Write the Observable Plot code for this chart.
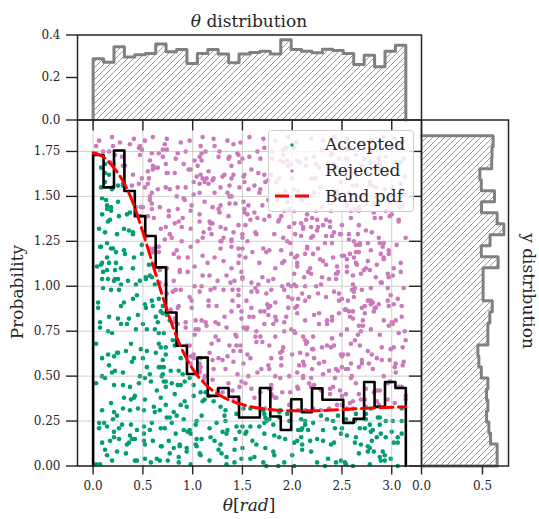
<!DOCTYPE html>
<html>
<head>
<meta charset="utf-8">
<script src="https://cdn.jsdelivr.net/npm/d3@7"></script>
<script src="https://cdn.jsdelivr.net/npm/@observablehq/plot@0.6"></script>
<style>
  body { margin: 0; background: #fff; }
  #wrap { position: relative; width: 539px; height: 519px; overflow: hidden; background: #fff; }
  #wrap svg { position: absolute; left: 0; top: 0; }
</style>
</head>
<body>
<div id="wrap"></div>
<script>
// ---------------- data ----------------
// θ histogram (density), 30 bins over [0, π]
const thetaHistValues = [0.288, 0.272, 0.345, 0.297, 0.307, 0.313, 0.358, 0.321, 0.332, 0.266,
  0.313, 0.332, 0.311, 0.269, 0.311, 0.318, 0.324, 0.311, 0.378, 0.332,
  0.324, 0.316, 0.333, 0.327, 0.313, 0.261, 0.305, 0.251, 0.324, 0.352];
// accepted θ histogram (black step), 30 bins over [0, π]
const acceptedHistValues = [1.73, 1.55, 1.755, 1.53, 1.39, 1.28, 1.105, 0.854, 0.669, 0.512,
  0.603, 0.39, 0.434, 0.385, 0.27, 0.27, 0.434, 0.275, 0.2, 0.371,
  0.3, 0.432, 0.369, 0.369, 0.24, 0.262, 0.467, 0.329, 0.467, 0.434];
// y histogram (density), 30 bins from y = 0 upward to y = 1.8375
const yHistValues = [0.62, 0.62, 0.566, 0.552, 0.533, 0.544, 0.533, 0.544, 0.49, 0.47,
  0.462, 0.544, 0.544, 0.56, 0.58, 0.505, 0.505, 0.505, 0.628, 0.49,
  0.562, 0.675, 0.62, 0.492, 0.598, 0.49, 0.478, 0.575, 0.578, 0.587];
// band pdf samples
const pdfTheta = [0, 0.1, 0.2, 0.3, 0.4, 0.5, 0.6, 0.7, 0.8, 0.9, 1.0, 1.1, 1.2, 1.3, 1.4, 1.5, 1.6,
  1.8, 2.0, 2.2, 2.4, 2.6, 2.8, 3.0, 3.1416];
const pdfValue = [1.743, 1.72, 1.665, 1.585, 1.465, 1.30, 1.12, 0.94, 0.775, 0.64, 0.54, 0.47, 0.42,
  0.385, 0.36, 0.342, 0.328, 0.313, 0.307, 0.307, 0.311, 0.317, 0.322, 0.327, 0.33];
// sampled points, pairs (θ·100, y·100)
const samples = [
3,1, 7,1, 12,9, 14,6, 19,3, 24,8, 33,7, 42,3, 44,3, 52,4, 58,2, 64,4, 67,3, 75,3, 77,7, 86,5, 86,2, 94,8, 98,1, 107,7, 108,6, 117,3, 126,9, 129,7, 134,1, 134,5, 142,2, 142,9, 149,4, 158,4, 162,5, 171,2, 174,0, 181,8, 182,6, 186,0, 192,2, 200,6, 202,0, 210,9, 219,8, 225,2, 233,0, 236,4, 244,2, 249,3, 253,2, 254,1, 261,0, 267,7, 276,8, 278,1, 282,8, 288,5, 289,3, 291,8, 293,3, 293,6, 299,4, 306,0,
9,13, 17,14, 21,16, 21,19, 26,15, 34,12, 36,13, 37,17, 39,15, 42,15, 51,14, 51,18, 52,12, 60,14, 68,11, 69,11, 76,14, 81,10, 83,18, 87,11, 87,12, 94,10, 95,19, 98,18, 103,12, 104,11, 104,15, 109,15, 118,16, 122,14, 128,12, 130,19, 134,18, 143,15, 147,19, 150,10, 153,18, 154,19, 160,14, 164,12, 172,18, 173,10, 182,17, 187,16, 193,15, 202,13, 205,14, 209,16, 210,12, 218,14, 225,15, 231,14, 239,12, 242,13, 249,18, 255,17, 263,13, 264,16, 269,12, 276,11, 278,10, 279,19, 280,14, 285,16, 289,18, 294,16, 300,19, 302,13, 306,16, 306,13, 310,18,
6,21, 6,24, 11,24, 14,22, 20,26, 24,28, 26,21, 29,23, 38,23, 44,20, 51,22, 57,20, 59,24, 68,21, 72,21, 74,27, 77,27, 79,24, 84,28, 91,20, 91,26, 97,20, 103,23, 104,25, 109,28, 117,21, 124,24, 132,28, 133,25, 135,20, 144,22, 144,29, 150,22, 158,22, 167,22, 172,24, 172,29, 173,27, 174,25, 177,26, 181,23, 187,27, 195,29, 197,25, 206,20, 209,26, 209,20, 210,21, 213,23, 213,25, 216,20, 221,24, 229,28, 231,20, 235,26, 241,25, 243,21, 246,28, 250,21, 254,26, 263,25, 264,29, 268,21, 273,21, 274,26, 274,29, 278,23, 281,20, 286,27, 288,27, 288,23, 294,25, 301,25, 310,25,
9,31, 18,35, 21,30, 30,32, 31,38, 37,31, 38,37, 41,38, 42,39, 45,32, 51,31, 52,37, 61,33, 62,30, 67,31, 68,38, 73,34, 81,30, 88,34, 92,36, 94,33, 101,39, 110,36, 112,37, 116,39, 121,36, 128,33, 133,31, 141,38, 146,37, 151,32, 158,32, 162,38, 171,31, 173,32, 180,39, 183,38, 184,38, 187,30, 188,31, 197,34, 206,31, 213,31, 221,32, 229,31, 237,32, 245,34, 250,39, 250,34, 255,32, 258,35, 261,36, 261,32, 269,37, 273,37, 274,33, 279,32, 285,36, 287,34, 296,37, 303,35, 310,32, 314,37, 314,39,
3,46, 12,49, 21,45, 30,45, 37,44, 46,46, 52,49, 58,47, 64,42, 71,47, 73,44, 73,47, 79,46, 82,40, 85,45, 88,45, 92,47, 97,49, 101,45, 108,41, 111,48, 113,41, 120,48, 125,42, 130,41, 136,46, 140,42, 147,44, 149,47, 153,46, 159,43, 168,41, 177,43, 179,40, 179,43, 179,45, 188,49, 190,41, 198,41, 205,44, 206,43, 211,49, 217,46, 219,49, 219,44, 222,45, 229,42, 238,40, 238,43, 241,44, 243,49, 248,42, 254,40, 259,49, 264,46, 267,40, 274,43, 282,41, 285,42, 288,42, 296,46, 298,47, 307,44, 310,44,
9,50, 16,56, 19,52, 22,53, 30,52, 39,58, 47,50, 54,55, 57,51, 66,55, 68,55, 69,50, 70,59, 70,51, 71,55, 78,53, 86,53, 90,51, 98,57, 107,53, 107,57, 107,52, 108,55, 112,50, 120,59, 121,54, 130,59, 133,54, 141,58, 145,51, 151,57, 156,50, 165,52, 169,54, 176,56, 177,54, 183,50, 189,56, 197,50, 205,52, 207,56, 211,58, 211,50, 212,56, 220,54, 227,57, 231,51, 232,58, 237,53, 244,54, 246,53, 250,55, 254,54, 256,54, 259,57, 260,50, 267,55, 270,59, 270,57, 277,57, 281,54, 290,59, 292,50, 298,59, 303,55, 304,57, 304,52, 311,56, 312,58,
3,68, 9,60, 15,62, 21,61, 24,63, 25,63, 33,64, 38,68, 41,60, 48,65, 50,60, 54,64, 63,63, 66,68, 68,66, 73,66, 73,62, 82,67, 88,60, 94,67, 97,67, 98,61, 101,62, 101,60, 108,60, 117,63, 119,68, 126,60, 135,61, 137,67, 141,64, 144,67, 148,67, 148,64, 155,62, 158,60, 164,69, 170,69, 177,67, 179,60, 188,63, 189,60, 190,64, 191,66, 200,62, 208,63, 214,68, 215,69, 215,62, 220,65, 221,65, 222,60, 230,66, 235,67, 239,66, 242,67, 249,62, 250,61, 251,62, 256,62, 259,68, 268,67, 276,64, 280,62, 285,60, 290,66, 299,65, 302,66, 311,66,
7,77, 15,75, 19,74, 28,79, 34,79, 43,76, 50,79, 54,76, 62,76, 66,74, 71,74, 80,70, 85,79, 93,77, 102,73, 103,76, 106,76, 114,78, 123,72, 126,70, 126,79, 134,77, 143,73, 144,72, 151,77, 154,76, 155,77, 163,72, 164,75, 168,72, 172,79, 181,79, 183,72, 192,75, 199,76, 202,75, 203,74, 211,72, 213,70, 221,72, 227,79, 235,79, 240,71, 249,73, 255,76, 263,70, 266,73, 267,78, 269,75, 271,78, 279,76, 288,73, 297,78, 301,79, 307,74, 313,75, 314,70,
5,88, 7,80, 16,83, 25,82, 28,89, 36,82, 45,84, 53,88, 60,89, 63,83, 65,80, 68,86, 70,85, 70,89, 74,84, 77,81, 78,87, 81,80, 82,82, 85,88, 86,89, 93,80, 99,88, 103,81, 109,81, 113,80, 116,89, 123,80, 124,89, 132,83, 139,86, 146,89, 149,82, 149,86, 157,83, 159,88, 161,83, 168,86, 172,86, 176,88, 176,84, 178,89, 183,83, 184,81, 192,80, 194,83, 196,88, 203,88, 205,85, 205,89, 213,81, 222,84, 227,85, 235,81, 240,83, 240,81, 247,85, 253,87, 254,87, 257,86, 258,83, 261,82, 261,86, 270,88, 271,81, 273,85, 273,89, 282,86, 283,88, 284,88, 292,81, 297,89, 300,80, 304,81, 310,89, 310,83,
5,91, 10,99, 18,98, 26,98, 31,91, 40,93, 44,95, 52,90, 59,92, 66,93, 74,96, 80,97, 83,98, 88,98, 97,94, 99,92, 107,97, 116,92, 118,98, 122,99, 131,98, 140,92, 140,98, 146,98, 146,95, 154,92, 159,97, 163,99, 165,97, 174,96, 175,90, 179,98, 183,91, 192,98, 196,94, 200,93, 206,93, 210,96, 213,92, 217,94, 226,96, 234,94, 242,97, 247,96, 247,92, 250,93, 256,92, 260,98, 262,97, 262,94, 263,99, 270,98, 276,92, 279,92, 279,99, 279,90, 281,91, 287,90, 296,99, 296,92, 299,95, 302,90, 306,93, 312,99,
9,104, 10,108, 14,109, 15,104, 21,103, 22,104, 22,109, 25,104, 28,101, 35,103, 43,101, 47,103, 53,104, 53,105, 57,106, 59,105, 62,101, 67,102, 67,109, 73,101, 81,103, 87,109, 87,108, 95,108, 102,100, 109,100, 110,106, 117,106, 125,103, 134,106, 138,102, 142,103, 149,108, 150,104, 150,105, 159,102, 166,101, 170,105, 176,103, 181,104, 190,100, 196,101, 199,100, 202,101, 202,107, 204,100, 212,105, 213,100, 216,108, 219,107, 224,100, 229,101, 230,105, 237,104, 244,107, 244,104, 245,107, 246,108, 255,108, 261,101, 261,106, 269,107, 272,109, 278,109, 284,105, 289,102, 290,102, 296,107, 297,105, 301,106, 309,108,
4,111, 8,112, 9,113, 14,116, 16,113, 23,113, 23,119, 28,110, 32,118, 40,110, 41,116, 49,118, 56,112, 60,112, 60,119, 66,119, 74,110, 81,118, 86,116, 95,116, 102,111, 110,117, 115,113, 122,116, 131,114, 139,110, 146,113, 147,117, 153,116, 160,119, 167,113, 174,119, 183,110, 190,113, 192,114, 199,118, 203,116, 205,111, 205,117, 205,113, 213,118, 218,110, 221,118, 228,115, 231,114, 234,112, 241,116, 245,111, 250,117, 252,117, 255,115, 255,111, 258,118, 262,116, 264,113, 264,119, 265,112, 267,119, 274,110, 276,114, 285,112, 289,118, 292,116, 292,115, 297,118, 302,110, 309,113,
7,122, 8,122, 14,124, 18,121, 20,121, 24,129, 31,120, 40,129, 49,123, 54,128, 57,121, 61,121, 64,122, 66,122, 72,126, 77,129, 79,127, 84,120, 89,125, 98,122, 105,125, 110,127, 119,129, 128,125, 128,121, 129,125, 131,127, 139,122, 139,126, 139,125, 146,121, 150,127, 150,121, 150,129, 155,125, 164,129, 171,121, 177,120, 182,129, 189,120, 191,127, 195,125, 198,124, 203,129, 209,128, 215,122, 215,121, 219,127, 221,128, 226,121, 233,124, 234,128, 240,124, 240,128, 248,129, 249,129, 257,126, 257,129, 262,125, 264,123, 266,129, 268,123, 268,124, 276,124, 279,120, 287,127, 288,124, 291,122, 292,124, 297,120, 305,123, 314,127,
6,132, 12,130, 15,136, 17,137, 26,139, 31,132, 36,131, 40,130, 47,139, 55,139, 61,138, 68,132, 73,133, 76,139, 82,135, 86,136, 89,133, 90,138, 98,132, 107,136, 111,130, 117,132, 117,136, 118,135, 120,135, 128,133, 133,132, 136,139, 141,130, 146,134, 153,134, 158,137, 163,130, 165,138, 172,137, 177,139, 186,136, 187,137, 189,139, 197,133, 202,135, 209,135, 211,132, 211,133, 214,137, 219,133, 220,138, 225,137, 225,131, 226,133, 231,134, 234,137, 238,136, 238,133, 242,130, 250,134, 259,138, 267,134, 274,131, 280,130, 283,138, 289,138, 298,139, 307,137, 307,136,
9,149, 9,140, 13,148, 14,145, 14,143, 18,144, 18,142, 25,147, 34,140, 37,141, 43,144, 48,144, 50,144, 57,148, 59,143, 59,146, 67,144, 76,142, 85,143, 91,149, 92,148, 98,142, 99,145, 107,140, 112,147, 120,144, 126,143, 127,141, 128,145, 137,146, 143,146, 151,147, 152,143, 152,141, 155,140, 156,145, 162,141, 170,145, 176,148, 185,148, 192,142, 195,147, 197,143, 202,142, 210,148, 215,140, 224,142, 230,144, 238,146, 239,142, 243,149, 247,149, 254,147, 255,145, 259,142, 260,148, 263,143, 267,142, 267,144, 269,148, 274,146, 282,146, 282,141, 286,146, 294,142, 298,147, 300,140, 307,147, 308,144, 311,145,
8,155, 12,158, 19,154, 20,155, 25,156, 30,157, 30,156, 39,156, 46,157, 52,155, 55,157, 57,150, 59,152, 65,154, 73,155, 77,154, 84,150, 85,155, 93,155, 101,158, 101,151, 107,152, 107,157, 112,158, 116,157, 120,159, 122,152, 128,155, 135,152, 137,156, 137,150, 139,150, 147,155, 152,158, 156,154, 162,156, 167,152, 168,154, 173,158, 176,159, 184,158, 193,153, 202,154, 206,153, 213,150, 222,152, 228,155, 237,151, 245,150, 245,153, 246,151, 249,158, 257,152, 261,156, 265,156, 273,151, 278,157, 278,158, 280,156, 283,150, 284,150, 284,155, 293,154, 301,155, 309,157, 309,154, 309,150, 312,151,
8,166, 12,168, 12,163, 16,162, 17,169, 21,168, 30,167, 32,167, 40,162, 49,160, 55,164, 56,160, 60,165, 60,167, 62,166, 65,166, 73,168, 74,163, 75,163, 82,163, 91,168, 96,165, 98,165, 104,161, 105,167, 108,162, 110,160, 114,160, 116,164, 121,160, 130,161, 132,162, 139,167, 139,160, 141,162, 147,169, 151,161, 152,162, 159,165, 166,163, 172,162, 179,162, 187,160, 191,169, 196,167, 199,168, 200,160, 208,169, 214,167, 219,160, 223,160, 224,168, 227,166, 236,168, 242,168, 245,166, 253,164, 258,160, 265,162, 270,167, 279,169, 282,166, 286,167, 288,169, 288,166, 288,167, 294,162, 303,169, 309,169, 313,161,
3,178, 3,174, 10,175, 16,175, 20,178, 22,173, 29,172, 37,179, 46,177, 47,178, 47,173, 49,176, 57,170, 59,174, 66,174, 70,172, 70,176, 72,179, 74,176, 83,171, 85,174, 93,175, 102,170, 107,172, 108,178, 109,170, 109,174, 113,175, 122,178, 126,172, 127,175, 136,171, 137,172, 141,179, 145,174, 146,173, 150,171, 157,172, 165,175, 168,171, 172,177, 180,171, 180,175, 188,170, 191,176, 191,173, 194,177, 195,170, 202,177, 205,170, 214,171, 222,172, 230,176, 239,173, 240,174, 247,171, 254,171, 255,171, 256,176, 264,173, 273,171, 279,175, 287,171, 294,172, 300,178, 308,179, 312,171,
6,181, 19,183, 27,180, 41,182, 52,181, 60,183, 74,182, 88,180, 97,181, 110,183, 121,182, 135,181, 148,180, 157,183, 171,182, 183,181, 196,183, 204,180, 219,182, 231,181, 242,183, 255,182, 268,180, 279,181, 292,183, 303,182, 311,181
];
// ticks
const xTicks = [0, 0.5, 1.0, 1.5, 2.0, 2.5, 3.0];
const yTicks = [0, 0.25, 0.5, 0.75, 1.0, 1.25, 1.5, 1.75];
const topYTicks = [0, 0.2, 0.4];
const rightXTicks = [0, 0.5];
const legendLabels = ["Accepted", "Rejected", "Band pdf"];

// ---------------- derived structures ----------------
const thetaMax = Math.PI;
const sampleYMax = 1.8375;
const nBins = 30;
const thetaEdges = d3.range(nBins + 1).map(i => i * thetaMax / nBins);
const yEdges = d3.range(nBins + 1).map(i => i * sampleYMax / nBins);

const pdfAt = d3.scaleLinear().domain(pdfTheta).range(pdfValue).clamp(true);
const pts = [];
for (let i = 0; i < samples.length; i += 2) pts.push({t: samples[i] / 100, v: samples[i + 1] / 100});
const accepted = pts.filter(d => d.v < pdfAt(d.t));
const rejected = pts.filter(d => d.v >= pdfAt(d.t));
const pdfPts = pdfTheta.map((t, i) => ({t, v: pdfValue[i]}));

function stepOutline(edges, values) {
  const out = [{a: edges[0], b: 0}];
  values.forEach((v, i) => { out.push({a: edges[i], b: v}, {a: edges[i + 1], b: v}); });
  out.push({a: edges[edges.length - 1], b: 0});
  return out;
}
const mainStep = stepOutline(thetaEdges, acceptedHistValues);
const topStep = stepOutline(thetaEdges, thetaHistValues);
const rightStep = stepOutline(yEdges, yHistValues);
const topBins = thetaHistValues.map((v, i) => ({x1: thetaEdges[i], x2: thetaEdges[i + 1], v}));
const rightBins = yHistValues.map((v, i) => ({y1: yEdges[i], y2: yEdges[i + 1], v}));

// ---------------- layout ----------------
const W = 539, H = 519;
const FONT = "'DejaVu Serif', serif";
const INK = "#262626";
const GREEN = "#029e73", PINK = "#cc78bc", GREY = "#808080";
const xDomain = [-0.157, 3.299];
const yDomain = [0, 1.925];
const frameL = 77, frameR = 421, mainTop = 119.5, mainBottom = 465.5, topTop = 34.5, rightR = 508;
const baseStyle = {background: "transparent", overflow: "visible", fontFamily: FONT, fontSize: "12px", color: INK};
const wrap = document.getElementById("wrap");

function addHatch(svg, id) {
  const defs = d3.select(svg).insert("defs", ":first-child");
  const p = defs.append("pattern").attr("id", id).attr("patternUnits", "userSpaceOnUse")
    .attr("width", 6).attr("height", 6);
  p.append("path").attr("d", "M-1,1 l2,-2 M0,6 l6,-6 M5,7 l2,-2")
    .attr("stroke", "#8c8c8c").attr("stroke-width", 0.9).attr("fill", "none");
}

const mainPlot = Plot.plot({
  width: W, height: H,
  marginLeft: frameL, marginRight: W - frameR, marginTop: mainTop, marginBottom: H - mainBottom,
  style: baseStyle,
  x: {domain: xDomain}, y: {domain: yDomain},
  marks: [
    Plot.dot(rejected, {x: "t", y: "v", r: 2.3, fill: PINK}),
    Plot.dot(accepted, {x: "t", y: "v", r: 2.3, fill: GREEN}),
    Plot.gridX(xTicks, {stroke: "#b0b0b0", strokeOpacity: 0.6, strokeWidth: 1}),
    Plot.gridY(yTicks, {stroke: "#b0b0b0", strokeOpacity: 0.6, strokeWidth: 1}),
    Plot.line(mainStep, {x: "a", y: "b", stroke: "black", strokeWidth: 2.6}),
    Plot.line(pdfPts, {x: "t", y: "v", stroke: "red", strokeWidth: 3, strokeDasharray: "13,5.5", curve: "monotone-x"}),
    Plot.frame({stroke: INK, strokeWidth: 1.5}),
    Plot.axisX(xTicks, {tickSize: 9, tickPadding: 6, tickFormat: ".1f", label: null, strokeWidth: 1.4}),
    Plot.axisY(yTicks, {tickSize: 11, tickPadding: 6, tickFormat: ".2f", label: null, strokeWidth: 1.4})
  ]
});
wrap.appendChild(mainPlot);

const topPlot = Plot.plot({
  width: W, height: H,
  marginLeft: frameL, marginRight: W - frameR, marginTop: topTop, marginBottom: H - mainTop,
  style: baseStyle,
  x: {domain: xDomain}, y: {domain: [0, 0.4]},
  marks: [
    Plot.rectY(topBins, {x1: "x1", x2: "x2", y: "v", fill: "url(#hatchTop)", inset: 0}),
    Plot.line(topStep, {x: "a", y: "b", stroke: GREY, strokeWidth: 3}),
    Plot.frame({stroke: INK, strokeWidth: 1.5}),
    Plot.axisY(topYTicks, {tickSize: 11, tickPadding: 6, tickFormat: ".1f", label: null, strokeWidth: 1.4}),
    Plot.axisX(xTicks, {tickSize: 11, tickFormat: () => "", label: null, strokeWidth: 1.4})
  ]
});
addHatch(topPlot, "hatchTop");
wrap.appendChild(topPlot);

const rightPlot = Plot.plot({
  width: W, height: H,
  marginLeft: frameR, marginRight: W - rightR, marginTop: mainTop, marginBottom: H - mainBottom,
  style: baseStyle,
  x: {domain: [0, 0.713]}, y: {domain: yDomain},
  marks: [
    Plot.rectX(rightBins, {y1: "y1", y2: "y2", x: "v", fill: "url(#hatchRight)", inset: 0}),
    Plot.line(rightStep, {x: "b", y: "a", stroke: GREY, strokeWidth: 3}),
    Plot.frame({stroke: INK, strokeWidth: 1.5}),
    Plot.axisX(rightXTicks, {tickSize: 9, tickPadding: 6, tickFormat: ".1f", label: null, strokeWidth: 1.4}),
    Plot.axisY(yTicks, {anchor: "left", tickSize: 12, tickFormat: () => "", label: null, strokeWidth: 1.4})
  ]
});
addHatch(rightPlot, "hatchRight");
wrap.appendChild(rightPlot);

// ---------------- titles & axis labels ----------------
const lab = d3.select(wrap).append("svg").attr("width", W).attr("height", H)
  .style("font-family", FONT).style("fill", INK);
const t1 = lab.append("text").attr("x", 249).attr("y", 27).attr("text-anchor", "middle").attr("font-size", 17);
t1.append("tspan").attr("font-style", "italic").text("θ");
t1.append("tspan").text(" distribution");
const t2 = lab.append("text").attr("x", 249).attr("y", 511).attr("text-anchor", "middle").attr("font-size", 17);
t2.append("tspan").attr("font-style", "italic").text("θ");
t2.append("tspan").text("[");
t2.append("tspan").attr("font-style", "italic").text("rad");
t2.append("tspan").text("]");
lab.append("text").attr("transform", "translate(23,292) rotate(-90)").attr("text-anchor", "middle")
  .attr("font-size", 17).text("Probability");
lab.append("text").attr("transform", "translate(523,291) rotate(90)").attr("text-anchor", "middle")
  .attr("font-size", 17).text("y distribution");

// ---------------- legend ----------------
const lg = lab.append("g").attr("transform", "translate(268,130)");
lg.append("rect").attr("x", 0.5).attr("y", 0.5).attr("width", 145).attr("height", 81).attr("rx", 3)
  .attr("fill", "white").attr("fill-opacity", 0.8).attr("stroke", "#cccccc");
lg.append("circle").attr("cx", 24).attr("cy", 15).attr("r", 1.8).attr("fill", GREEN);
lg.append("circle").attr("cx", 24).attr("cy", 41).attr("r", 1.8).attr("fill", PINK);
lg.append("line").attr("x1", 7).attr("x2", 41).attr("y1", 66).attr("y2", 66)
  .attr("stroke", "red").attr("stroke-width", 3).attr("stroke-dasharray", "14,6");
legendLabels.forEach((s, i) => {
  lg.append("text").attr("x", 57).attr("y", 20 + i * 26).attr("font-size", 17).text(s);
});
</script>
</body>
</html>
